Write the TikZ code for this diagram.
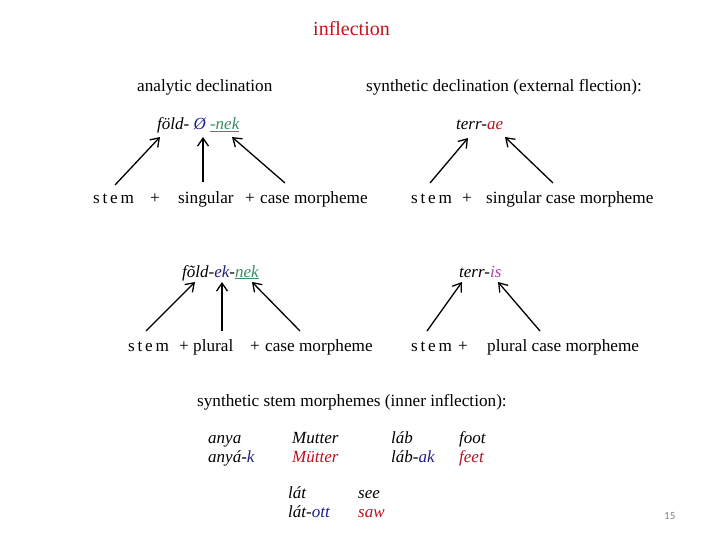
\documentclass[tikz,border=0pt]{standalone}
\usepackage{fontspec}
\setmainfont{Liberation Serif}
\newfontfamily\numfont{Carlito}
\usetikzlibrary{arrows.meta}
\definecolor{ttl}{HTML}{C0141C}
\definecolor{dblue}{HTML}{1E1E8C}
\definecolor{dgreen}{HTML}{3C8C64}
\definecolor{dred}{HTML}{B4141E}
\definecolor{mag}{HTML}{B43CB4}
\newcommand{\spc}[1]{{\addfontfeatures{LetterSpace=16}#1}}
\begin{document}
\begin{tikzpicture}[x=1pt,y=-1pt,
  txt/.style={inner sep=0pt, anchor=base west, yshift=-2pt, font=\fontsize{17.2}{19}\selectfont},
  ex/.style={inner sep=0pt, anchor=base west, yshift=-2pt, font=\fontsize{17}{19}\selectfont\itshape},
  arr/.style={-{Straight Barb[length=8pt,width=11pt]}, line width=1.3pt}]
\useasboundingbox (0,0) rectangle (720,540);
% title
\node[inner sep=0pt, anchor=base west, yshift=-2pt, font=\fontsize{20}{22}\selectfont, text=ttl] (title) at (313,34) {inflection};
% headings
\node[txt] (h1) at (137,90) {analytic declination};
\node[txt] (h2) at (366,90) {synthetic declination (external flection):};
% group 1
\node[ex] (w1) at (157,128) {föld- \textcolor{dblue}{Ø} \textcolor{dgreen}{\underline{-nek}}};
\node[txt] (s1) at (93,202) {\spc{stem}};
\node[txt] (p1a) at (150,202) {+};
\node[txt] (g1) at (178,202) {singular};
\node[txt] (p1b) at (245,202) {+};
\node[txt] (c1) at (260,202) {case morpheme};
\coordinate (a1s) at (115,185); \coordinate (a1e) at (160,137);
\coordinate (b1s) at (203,182); \coordinate (b1e) at (203,137);
\coordinate (c1s) at (285,183); \coordinate (c1e) at (232,137);
\draw[arr] (a1s) -- (a1e);
\draw[arr] (b1s) -- (b1e);
\draw[arr] (c1s) -- (c1e);
% group 2
\node[ex] (w2) at (456,128) {terr-\textcolor{dred}{ae}};
\node[txt] (s2) at (411,202) {\spc{stem}};
\node[txt] (p2) at (462,202) {+};
\node[txt] (c2) at (486,202) {singular case morpheme};
\coordinate (a2s) at (430,183); \coordinate (a2e) at (468,138);
\coordinate (b2s) at (553,183); \coordinate (b2e) at (505,137);
\draw[arr] (a2s) -- (a2e);
\draw[arr] (b2s) -- (b2e);
% group 3
\node[ex] (w3) at (182,275) {fõld-\textcolor{dblue}{ek}-\textcolor{dgreen}{\underline{nek}}};
\node[txt] (s3) at (128,349) {\spc{stem}};
\node[txt] (p3a) at (179,349) {+};
\node[txt] (g3) at (193,349) {plural};
\node[txt] (p3b) at (250,349) {+};
\node[txt] (c3) at (265,349) {case morpheme};
\coordinate (a3s) at (146,331); \coordinate (a3e) at (195,282);
\coordinate (b3s) at (222,331); \coordinate (b3e) at (222,282);
\coordinate (c3s) at (300,331); \coordinate (c3e) at (252,282);
\draw[arr] (a3s) -- (a3e);
\draw[arr] (b3s) -- (b3e);
\draw[arr] (c3s) -- (c3e);
% group 4
\node[ex] (w4) at (459,275) {terr-\textcolor{mag}{is}};
\node[txt] (s4) at (411,349) {\spc{stem}};
\node[txt] (p4) at (458,349) {+};
\node[txt] (c4) at (487,349) {plural case morpheme};
\coordinate (a4s) at (427,331); \coordinate (a4e) at (462,282);
\coordinate (b4s) at (540,331); \coordinate (b4e) at (498,282);
\draw[arr] (a4s) -- (a4e);
\draw[arr] (b4s) -- (b4e);
% inner inflection
\node[txt] (h3) at (197,404) {synthetic stem morphemes (inner inflection):};
\node[ex] (t1) at (208,441) {anya};
\node[ex] (t2) at (208,460) {anyá-\textcolor{dblue}{k}};
\node[ex] (t3) at (292,441) {Mutter};
\node[ex, text=dred] (t4) at (292,460) {Mütter};
\node[ex] (t5) at (391,441) {láb};
\node[ex] (t6) at (391,460) {láb-\textcolor{dblue}{ak}};
\node[ex] (t7) at (459,441) {foot};
\node[ex, text=dred] (t8) at (459,460) {feet};
\node[ex] (t9) at (288,496) {lát};
\node[ex] (t10) at (288,515) {lát-\textcolor{dblue}{ott}};
\node[ex] (t11) at (358,496) {see};
\node[ex, text=dred] (t12) at (358,515) {saw};
% page number
\node[inner sep=0pt, anchor=base west, font=\numfont\fontsize{11}{13}\selectfont, text=gray] (pg) at (664,519) {15};
\end{tikzpicture}
\end{document}
